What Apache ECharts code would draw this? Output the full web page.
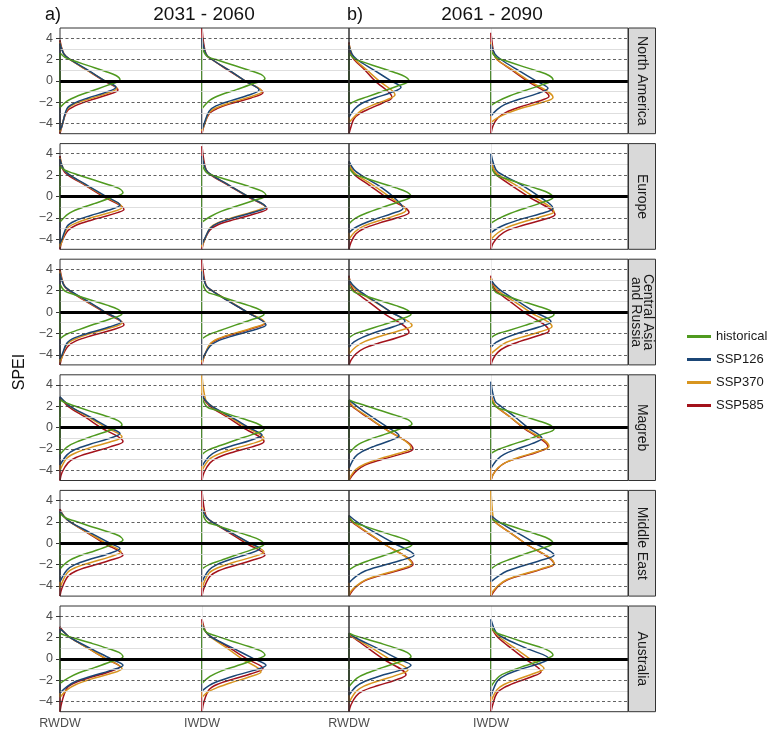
<!DOCTYPE html>
<html>
<head>
<meta charset="utf-8">
<script src="https://cdn.jsdelivr.net/npm/echarts@6/dist/echarts.min.js"></script>
<style>
  html, body { margin: 0; padding: 0; background: #fff; }
  #chart { width: 775px; height: 730px; }
</style>
</head>
<body>
<div id="chart"></div>
<script>
var regions = ['North America', 'Europe', 'Central Asia\nand Russia', 'Magreb', 'Middle East', 'Australia'];
var periods = ['2031 - 2060', '2061 - 2090'];
var panelTags = ['a)', 'b)'];
var windows = ['RWDW', 'IWDW'];
var scenarios = ['historical', 'SSP126', 'SSP370', 'SSP585'];
var colors = ['#4f9a1f', '#1b4676', '#d8951f', '#a3121b'];
var yTicks = [-4, -2, 0, 2, 4];
var yMinor = [-3, -1, 1, 3];

// density outlines, flat [spei, density, spei, density, ...] read top to bottom
// order: region -> period -> window (RWDW, IWDW)
var histCurves = [
  [2.6,0, 2.2,5, 1.9,13, 1.4,29, 0.9,45, 0.5,56, 0.1,60, -0.4,48, -0.9,33, -1.4,18, -1.9,7, -2.5,0],
  [3.1,0, 2.3,5, 2.0,14, 1.5,30, 1.0,47, 0.6,59, 0.2,63, -0.3,50, -0.8,35, -1.3,19, -1.8,8, -2.6,0],
  [2.6,0, 2.1,5, 1.8,13, 1.3,29, 0.8,45, 0.4,56, 0,60, -0.5,48, -1,33, -1.5,18, -1.9,6, -2.2,0],
  [2.8,0, 2.2,5, 1.9,14, 1.4,30, 0.9,47, 0.5,58, 0.1,62, -0.4,50, -0.9,34, -1.4,19, -1.9,7, -2.3,0],
  [2.8,0, 2.45,5, 2.15,14, 1.65,30, 1.15,47, 0.75,59, 0.35,63, -0.15,50, -0.65,35, -1.15,19, -1.65,8, -2.4,0],
  [3.0,0, 2.2,5, 1.9,14, 1.4,31, 0.9,48, 0.5,60, 0.1,64, -0.4,51, -0.9,35, -1.4,19, -1.9,8, -2.4,0],
  [2.7,0, 2.1,5, 1.8,14, 1.3,30, 0.8,47, 0.4,58, 0,62, -0.5,50, -1,34, -1.5,19, -2,7, -2.55,0],
  [2.8,0, 2.0,5, 1.7,14, 1.2,30, 0.7,47, 0.3,58, -0.1,62, -0.6,50, -1.1,34, -1.6,19, -2.1,7, -2.5,0],
  [2.6,0, 1.95,5, 1.65,14, 1.15,30, 0.65,47, 0.25,58, -0.15,62, -0.65,50, -1.15,34, -1.65,19, -2.1,6, -2.5,0],
  [2.8,0, 1.9,5, 1.6,14, 1.1,30, 0.6,47, 0.2,58, -0.2,62, -0.7,50, -1.2,34, -1.7,19, -2.1,7, -2.5,0],
  [2.5,0, 1.9,5, 1.6,14, 1.1,30, 0.6,47, 0.2,58, -0.2,62, -0.7,50, -1.2,34, -1.7,17, -2.0,7, -2.4,0],
  [2.6,0, 1.85,5, 1.55,14, 1.05,30, 0.55,47, 0.15,59, -0.25,63, -0.75,50, -1.25,34, -1.75,17, -2.05,6, -2.4,0],
  [2.6,0, 2.35,5, 2.05,14, 1.55,30, 1.05,47, 0.65,58, 0.25,62, -0.25,50, -0.75,34, -1.25,19, -1.75,8, -2.5,0],
  [2.8,0, 1.95,5, 1.65,14, 1.15,30, 0.65,47, 0.25,58, -0.15,62, -0.65,50, -1.15,34, -1.65,19, -2.1,6, -2.5,0],
  [2.6,0, 2.4,5, 2.15,14, 1.65,30, 1.15,47, 0.75,59, 0.35,63, -0.15,50, -0.65,35, -1.15,19, -1.65,8, -2.4,0],
  [2.6,0, 1.95,5, 1.65,14, 1.15,30, 0.65,47, 0.25,59, -0.15,63, -0.65,50, -1.15,35, -1.65,19, -2.05,7, -2.4,0],
  [2.8,0, 2.4,5, 2.1,14, 1.6,30, 1.1,47, 0.7,59, 0.3,63, -0.2,50, -0.7,35, -1.2,19, -1.7,8, -2.4,0],
  [2.9,0, 2.0,5, 1.7,14, 1.2,30, 0.7,47, 0.3,58, -0.1,62, -0.6,50, -1.1,34, -1.6,19, -2.0,7, -2.4,0],
  [2.4,0, 1.95,5, 1.65,14, 1.15,30, 0.65,47, 0.25,59, -0.15,63, -0.65,50, -1.15,35, -1.65,19, -2.1,7, -2.5,0],
  [2.3,0, 2.05,5, 1.8,14, 1.3,30, 0.8,47, 0.4,58, 0,62, -0.5,50, -1,34, -1.5,19, -1.95,7, -2.4,0],
  [2.4,0, 2.2,5, 1.95,14, 1.5,30, 1.0,47, 0.6,59, 0.2,63, -0.3,50, -0.8,35, -1.3,19, -1.8,8, -2.3,0],
  [3.0,0, 2.45,5, 2.15,14, 1.65,30, 1.15,47, 0.75,59, 0.35,63, -0.15,50, -0.65,35, -1.15,19, -1.65,8, -2.3,0],
  [2.4,0, 2.2,5, 1.95,14, 1.5,30, 1.0,47, 0.6,58, 0.2,62, -0.3,50, -0.8,34, -1.3,19, -1.8,8, -2.6,0],
  [3.0,0, 2.45,5, 2.15,14, 1.65,30, 1.15,47, 0.75,58, 0.35,62, -0.15,50, -0.65,34, -1.15,19, -1.65,8, -2.6,0]
];

var ssp126Curves = [
  [3.5,0, 2.5,4, 2,10, 1,28, 0,45, -0.6,56, -1.1,45, -1.6,28, -2.1,14, -2.6,7, -4.2,2, -4.6,0],
  [4.0,0, 2.5,4, 2,10, 1,27, 0,43, -0.85,57, -1.35,46, -1.85,29, -2.35,14, -2.85,7, -4.2,1.5, -4.5,0],
  [3.3,0, 2.5,3, 2,8, 1,25, 0,42, -0.6,52, -1.1,42, -1.6,26, -2.1,13, -2.6,6, -3.4,0],
  [3.4,0, 2.5,4, 2,10, 1,27, 0,45, -0.7,57, -1.2,46, -1.7,29, -2.2,14, -2.7,6, -3.3,0],
  [3.5,0, 2.5,4, 2,10, 1,28, 0,46, -0.8,60, -1.3,48, -1.8,30, -2.3,15, -2.8,7, -4.0,2, -4.4,0],
  [3.8,0, 2.5,4, 2,10, 1,28, 0,46, -1.0,64, -1.5,51, -2,32, -2.5,16, -3,8, -4.1,2, -4.5,0],
  [3.3,0, 2.5,5, 2,12, 1,30, 0,44, -1.1,54, -1.6,43, -2.1,27, -2.6,13, -3.0,5, -3.4,0],
  [4.0,0, 2.5,5, 2,12, 1,32, 0,48, -1.1,62, -1.6,50, -2.1,31, -2.6,15, -3.0,6, -3.4,0],
  [3.6,0, 2.5,4, 2,10, 1,28, 0,45, -0.9,61, -1.4,49, -1.9,31, -2.4,15, -2.9,7, -4.0,2, -4.4,0],
  [3.8,0, 2.5,4, 2,10, 1,27, 0,45, -1.2,64, -1.7,51, -2.2,32, -2.7,16, -3.2,8, -4.1,2, -4.5,0],
  [3.0,0, 2.5,4, 2,10, 1,26, 0,42, -0.85,56, -1.35,45, -1.85,28, -2.35,14, -2.8,5, -3.3,0],
  [3.0,0, 2.5,4, 2,10, 1,27, 0,44, -0.9,60, -1.4,48, -1.9,30, -2.4,15, -2.85,5, -3.3,0],
  [2.9,0, 2.5,4, 2,10, 1,30, 0,49, -0.55,60, -1.05,48, -1.55,30, -2.05,15, -2.55,7, -3.5,0],
  [3.0,0, 2.5,4, 2,10, 1,29, 0,47, -0.7,60, -1.2,48, -1.7,30, -2.2,15, -2.7,7, -3.6,0],
  [2.6,0, 2,8, 1,23, 0,39, -0.75,50, -1.25,40, -1.75,25, -2.25,13, -2.75,6, -3.8,0],
  [4.3,0, 2.5,4, 2,10, 1,24, 0,37, -1.0,51, -1.5,41, -2,26, -2.5,13, -3,6, -3.8,0],
  [3.0,0, 2.5,4, 2,10, 1,30, 0,50, -0.5,60, -1.0,48, -1.5,30, -2.0,15, -2.5,7, -3.6,0],
  [3.2,0, 2.5,4, 2,10, 1,29, 0,48, -0.5,58, -1.0,46, -1.5,29, -2.0,15, -2.5,7, -3.6,0],
  [2.6,0, 2,8, 1,26, 0,45, -1.1,65, -1.6,52, -2.1,33, -2.6,16, -3.1,7, -3.7,0],
  [2.6,0, 2,8, 1,26, 0,44, -1.1,63, -1.6,50, -2.1,32, -2.6,16, -3.1,7, -3.6,0],
  [2.8,0, 2.5,4, 2,10, 1,30, 0,51, -0.6,63, -1.1,50, -1.6,32, -2.1,16, -2.6,7, -3.2,0],
  [3.2,0, 2.5,4, 2,10, 1,31, 0,52, -0.6,64, -1.1,51, -1.6,32, -2.1,16, -2.5,7, -3.0,0],
  [2.4,0, 2,6, 1,28, 0,49, -0.6,62, -1.1,50, -1.6,31, -2.1,16, -2.6,7, -3.4,0],
  [3.7,0, 2.5,5, 2,12, 1,35, 0.0,58, -0.5,46, -1.0,29, -1.5,15, -2.0,7, -2.7,3, -3.5,0]
];

var ssp370Curves = [
  [3.6,0, 2.5,4, 2,10, 1,27, 0,45, -0.7,57, -1.2,46, -1.7,29, -2.2,14, -2.7,7, -4.2,2, -4.8,0],
  [4.0,0, 2.5,4, 2,10, 1,27, 0,43, -1.0,60, -1.5,48, -2,30, -2.5,15, -3,7, -4.2,2, -4.7,0],
  [3.4,0, 2.5,3, 2,6, 1,18, 0,30, -1.3,46, -1.8,37, -2.3,23, -2.8,12, -3.3,6, -3.9,0],
  [3.6,0, 2.5,3, 2,6, 1,22, 0,38, -1.55,62, -2.05,50, -2.55,31, -3.05,16, -3.5,6, -3.9,0],
  [3.6,0, 2.5,4, 2,10, 1,27, 0,45, -1.0,62, -1.5,50, -2,31, -2.5,16, -3,7, -4.2,2, -4.7,0],
  [3.8,0, 2.5,4, 2,10, 1,28, 0,46, -0.95,63, -1.45,50, -1.95,32, -2.45,16, -2.95,8, -4.2,2, -4.7,0],
  [3.2,0, 2.5,3, 2,8, 1,25, 0,40, -1.3,57, -1.8,46, -2.3,29, -2.8,14, -3.3,6, -4.0,0],
  [3.3,0, 2.5,3, 2,8, 1,26, 0,42, -1.4,63, -1.9,50, -2.4,32, -2.9,16, -3.4,7, -4.0,0],
  [3.8,0, 2.5,4, 2,10, 1,27, 0,45, -1.0,62, -1.5,50, -2,31, -2.5,16, -3,7, -4.2,2, -4.7,0],
  [3.9,0, 2.5,4, 2,10, 1,28, 0,45, -1.0,63, -1.5,50, -2,32, -2.5,16, -3,8, -4.2,2, -4.7,0],
  [3.2,0, 2.5,3, 2,8, 1,25, 0,42, -1.25,63, -1.75,50, -2.25,32, -2.75,16, -3.25,7, -3.9,0],
  [3.2,0, 2.5,3, 2,7, 1,23, 0,39, -1.35,61, -1.85,49, -2.35,31, -2.85,15, -3.35,7, -3.9,0],
  [2.8,0, 2.5,4, 2,10, 1,28, 0,46, -0.85,62, -1.35,50, -1.85,31, -2.35,16, -2.85,7, -4.0,0],
  [4.9,0, 2.5,4, 2,10, 1,27, 0,45, -1.0,62, -1.5,50, -2,31, -2.5,16, -3,7, -4.0,0],
  [2.6,0, 2,4, 1,19, 0,34, -1.9,62, -2.4,50, -2.9,31, -3.4,16, -3.9,7, -4.5,2, -4.9,0],
  [3.0,0, 2.5,2, 2,5, 1,19, 0,33, -1.75,58, -2.25,46, -2.75,29, -3.25,15, -3.75,7, -4.4,2, -4.9,0],
  [3.0,0, 2.5,4, 2,10, 1,28, 0,46, -0.8,61, -1.3,49, -1.8,31, -2.3,15, -2.8,7, -4.2,0],
  [3.4,0, 2.5,4, 2,10, 1,29, 0,47, -0.8,62, -1.3,50, -1.8,31, -2.3,16, -2.8,7, -4.2,0],
  [2.6,0, 2,4, 1,19, 0,34, -1.95,63, -2.45,50, -2.95,32, -3.45,16, -3.95,8, -4.5,2, -4.9,0],
  [4.95,0, 2.5,2, 2,4, 1,19, 0,34, -1.9,63, -2.4,50, -2.9,32, -3.4,16, -3.9,8, -4.5,2, -4.9,0],
  [2.8,0, 2.5,4, 2,10, 1,28, 0,46, -0.9,62, -1.4,50, -1.9,31, -2.4,16, -2.9,7, -3.6,0],
  [3.3,0, 2.5,4, 2,9, 1,25, 0,40, -1.2,59, -1.7,47, -2.2,30, -2.7,15, -3.1,6, -3.6,0],
  [2.3,0, 2,5, 1,23, 0,40, -1.05,59, -1.55,47, -2.05,30, -2.55,15, -3.05,7, -4.1,0],
  [3.0,0, 2.5,4, 2,9, 1,24, 0,39, -0.9,53, -1.4,42, -1.9,27, -2.4,13, -2.9,6, -4.0,0]
];

var ssp585Curves = [
  [3.8,0, 2.5,4, 2,10, 1,27, 0,44, -0.85,58, -1.35,46, -1.85,29, -2.35,15, -2.85,7, -4.2,2, -4.95,0],
  [4.95,0, 2.5,4, 2,10, 1,26, 0,43, -1.1,61, -1.6,49, -2.1,30, -2.6,15, -3.1,7, -4.2,2, -4.95,0],
  [3.6,0, 2.5,2, 2,5, 1,16, 0,26, -1.55,43, -2.05,34, -2.55,22, -3.05,11, -3.55,5, -4.3,2, -4.95,0],
  [4.5,0, 2.5,3, 2,6, 1,21, 0,36, -1.45,58, -1.95,46, -2.45,29, -2.95,15, -3.45,7, -4.2,2, -4.95,0],
  [3.8,0, 2.5,3, 2,8, 1,26, 0,43, -1.2,64, -1.7,51, -2.2,32, -2.7,16, -3.2,8, -4.2,2, -4.95,0],
  [4.7,0, 2.5,4, 2,9, 1,27, 0,45, -1.15,65, -1.65,52, -2.15,33, -2.65,16, -3.15,8, -4.2,2, -4.95,0],
  [3.0,0, 2.5,3, 2,6, 1,21, 0,36, -1.5,60, -2,48, -2.5,30, -3,15, -3.5,7, -4.3,2, -4.95,0],
  [3.2,0, 2.5,3, 2,6, 1,21, 0,37, -1.7,64, -2.2,51, -2.7,32, -3.2,16, -3.7,8, -4.4,2, -4.95,0],
  [4.0,0, 2.5,4, 2,9, 1,26, 0,44, -1.2,64, -1.7,51, -2.2,32, -2.7,16, -3.2,8, -4.2,2, -4.95,0],
  [4.95,0, 2.5,4, 2,10, 1,27, 0,45, -1.05,63, -1.55,50, -2.05,32, -2.55,16, -3.05,8, -4.2,2, -4.95,0],
  [3.4,0, 2.5,2, 2,5, 1,19, 0,33, -1.9,60, -2.4,48, -2.9,30, -3.4,15, -3.9,7, -4.5,2, -4.95,0],
  [3.4,0, 2.5,2, 2,5, 1,19, 0,33, -1.75,58, -2.25,46, -2.75,29, -3.25,15, -3.75,7, -4.4,2, -4.95,0],
  [2.7,0, 2.5,3, 2,8, 1,25, 0,41, -1.3,63, -1.8,50, -2.3,32, -2.8,16, -3.3,8, -4.2,2, -4.95,0],
  [3.2,0, 2.5,3, 2,8, 1,25, 0,41, -1.3,62, -1.8,50, -2.3,31, -2.8,16, -3.3,8, -4.2,2, -4.95,0],
  [2.4,0, 2,3, 1,18, 0,34, -2.0,64, -2.5,51, -3,32, -3.5,16, -4,8, -4.5,3, -4.95,0],
  [3.0,0, 2.5,2, 2,5, 1,19, 0,32, -1.8,57, -2.3,46, -2.8,29, -3.3,14, -3.8,7, -4.4,2, -4.95,0],
  [3.2,0, 2.5,4, 2,10, 1,27, 0,44, -1.1,63, -1.6,50, -2.1,32, -2.6,16, -3.1,8, -4.2,2, -4.95,0],
  [4.95,0, 2.5,4, 2,10, 1,27, 0,44, -1.1,63, -1.6,50, -2.1,32, -2.6,16, -3.1,8, -4.2,2, -4.95,0],
  [2.4,0, 2,3, 1,18, 0,34, -2.0,64, -2.5,51, -3,32, -3.5,16, -4,8, -4.5,3, -4.95,0],
  [2.6,0, 2,4, 1,19, 0,34, -1.95,63, -2.45,50, -2.95,32, -3.45,16, -3.95,8, -4.5,3, -4.95,0],
  [3.0,0, 2.5,4, 2,10, 1,28, 0,46, -0.75,60, -1.25,48, -1.75,30, -2.25,15, -2.75,7, -4.0,2, -4.95,0],
  [3.7,0, 2.5,4, 2,10, 1,28, 0,45, -0.9,61, -1.4,49, -1.9,31, -2.4,15, -2.9,7, -4.0,2, -4.95,0],
  [2.2,0, 2,4, 1,19, 0,34, -1.5,57, -2.0,46, -2.5,29, -3.0,14, -3.5,7, -4.3,2, -4.95,0],
  [3.0,0, 2.5,3, 2,7, 1,20, 0,34, -1.2,50, -1.7,40, -2.2,25, -2.7,13, -3.2,6, -4.2,2, -4.95,0]
];

var curveSets = [histCurves, ssp126Curves, ssp370Curves, ssp585Curves];

var chartDiv = document.getElementById('chart');
var chart = echarts.init(chartDiv, null, { renderer: 'canvas' });

var FONT = '"Liberation Sans", Arial, Helvetica, sans-serif';
var DENS_SCALE = 1 / 142;   // one window slot = 142 px of density
var panelTop = 28, panelH = 105.7, panelStep = 115.6;
var colLeft = [60, 349], colWidth = [289, 279];

var grids = [], xAxes = [], yAxes = [], series = [], graphics = [];

function minus(v) {
  return v < 0 ? '\u2212' + (-v) : String(v);
}

for (var r = 0; r < regions.length; r++) {
  var rowTop = panelTop + r * panelStep;
  for (var p = 0; p < periods.length; p++) {
    var gi = r * 2 + p;
    var lastRow = r === regions.length - 1;
    grids.push({
      left: colLeft[p], top: rowTop, width: colWidth[p], height: panelH, show: false
    });
    xAxes.push({
      type: 'value', gridIndex: gi, min: 0, max: colWidth[p] / 142,
      axisLine: { show: false }, splitLine: { show: false },
      axisTick: { show: lastRow, customValues: [0, 1], length: 4, lineStyle: { color: '#333' } },
      axisLabel: {
        show: lastRow, customValues: [0, 1], margin: 5,
        color: '#4d4d4d', fontSize: 12.5, fontFamily: FONT,
        formatter: function (v) { return windows[Math.round(v)]; }
      }
    });
    yAxes.push({
      type: 'value', gridIndex: gi, min: -4.95, max: 4.95,
      axisLine: { show: false }, splitLine: { show: false },
      axisTick: { show: p === 0, customValues: yTicks, length: 4, lineStyle: { color: '#333' } },
      axisLabel: {
        show: p === 0, customValues: yTicks, margin: 7,
        color: '#4d4d4d', fontSize: 12.5, fontFamily: FONT,
        formatter: minus
      }
    });

    // panel grid lines
    var lines = [];
    yTicks.forEach(function (v) {
      if (v !== 0) lines.push({ yAxis: v, lineStyle: { color: '#3a3a3a', width: 0.8, type: [3, 2.5] } });
    });
    yMinor.forEach(function (v) {
      lines.push({ yAxis: v, lineStyle: { color: '#d6d6d6', width: 0.8, type: 'solid' } });
    });
    lines.push({ xAxis: 1, lineStyle: { color: '#e4e4e4', width: 0.8, type: 'solid' } });
    series.push({
      type: 'line', xAxisIndex: gi, yAxisIndex: gi, data: [[0, 0]], showSymbol: false,
      lineStyle: { opacity: 0 }, silent: true, z: 1,
      markLine: { silent: true, symbol: ['none', 'none'], label: { show: false }, data: lines }
    });

    for (var c = 0; c < windows.length; c++) {
      for (var s = scenarios.length - 1; s >= 0; s--) {
        var flat = curveSets[s][gi * 2 + c];
        var pts = [];
        for (var k = 0; k < flat.length; k += 2) {
          pts.push([c + flat[k + 1] * DENS_SCALE, flat[k]]);
        }
        var yTop = flat[0], yBot = flat[flat.length - 2];
        series.push({
          name: scenarios[s], type: 'line', xAxisIndex: gi, yAxisIndex: gi,
          data: [[c, yBot], [c, yTop]], showSymbol: false, silent: true, z: 3,
          lineStyle: { color: colors[s], width: 1.5 }, itemStyle: { color: colors[s] }
        });
        series.push({
          name: scenarios[s], type: 'line', xAxisIndex: gi, yAxisIndex: gi,
          data: pts, smooth: 0.35, showSymbol: false, silent: true, z: 3,
          lineStyle: { color: colors[s], width: 1.5 }, itemStyle: { color: colors[s] }
        });
      }
    }

    // thick zero line on top of the densities
    series.push({
      type: 'line', xAxisIndex: gi, yAxisIndex: gi, data: [[0, 0]], showSymbol: false,
      lineStyle: { opacity: 0 }, silent: true, z: 10,
      markLine: {
        silent: true, symbol: ['none', 'none'], label: { show: false },
        data: [{ yAxis: 0, lineStyle: { color: '#000', width: 3, type: 'solid' } }]
      }
    });

    // panel border drawn over the data, like the original
    graphics.push({
      type: 'rect', z: 100, silent: true,
      shape: { x: colLeft[p], y: rowTop, width: colWidth[p], height: panelH },
      style: { fill: 'none', stroke: '#333', lineWidth: 1 }
    });
  }

  // facet strip
  graphics.push({
    type: 'rect', z: 100, silent: true,
    shape: { x: 628.5, y: rowTop, width: 27, height: panelH },
    style: { fill: '#d9d9d9', stroke: '#333', lineWidth: 1 }
  });
  graphics.push({
    type: 'text', z: 101, silent: true, x: 642, y: rowTop + panelH / 2, rotation: -Math.PI / 2,
    style: {
      text: regions[r], fill: '#1a1a1a', font: '14px ' + FONT,
      align: 'center', verticalAlign: 'middle', lineHeight: 12.5
    }
  });
}

// period titles
var titleX = [204, 492], tagX = [45, 347];
for (var q = 0; q < periods.length; q++) {
  graphics.push({
    type: 'text', x: titleX[q], y: 15,
    style: { text: periods[q], fill: '#111', font: '19px ' + FONT, align: 'center', verticalAlign: 'middle' }
  });
  graphics.push({
    type: 'text', x: tagX[q], y: 15,
    style: { text: panelTags[q], fill: '#111', font: '18px ' + FONT, align: 'left', verticalAlign: 'middle' }
  });
}
graphics.push({
  type: 'text', x: 20, y: 372, rotation: Math.PI / 2,
  style: { text: 'SPEI', fill: '#111', font: '16px ' + FONT, align: 'center', verticalAlign: 'middle' }
});

var option = {
  animation: false,
  backgroundColor: '#fff',
  grid: grids,
  xAxis: xAxes,
  yAxis: yAxes,
  legend: {
    data: scenarios, orient: 'vertical', left: 682, top: 325,
    icon: 'rect', itemWidth: 24, itemHeight: 3, itemGap: 10,
    textStyle: { color: '#1a1a1a', fontSize: 13, fontFamily: FONT }
  },
  graphic: graphics,
  series: series
};

chart.setOption(option);

window.addEventListener('resize', function () {
  chart.resize();
});
</script>
</body>
</html>
